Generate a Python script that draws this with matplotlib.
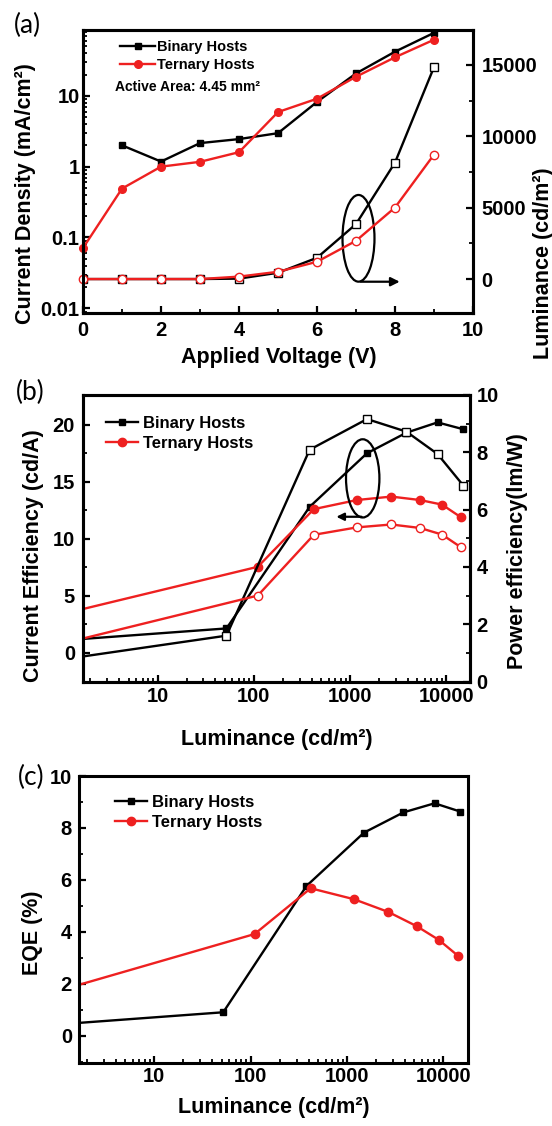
import matplotlib
matplotlib.use('Agg')
import numpy as np
import matplotlib.pyplot as plt
from matplotlib.patches import Ellipse
from matplotlib.ticker import MultipleLocator, LogLocator, FixedLocator, FixedFormatter, NullFormatter

plt.rcParams['font.family'] = ['Liberation Sans', 'DejaVu Sans']
plt.rcParams['font.weight'] = 'bold'
plt.rcParams['axes.labelweight'] = 'bold'

BLACK = '#000000'
RED = '#ee2020'
series_names = ['Binary Hosts', 'Ternary Hosts']

# ---------------- Panel (a) data ----------------
voltage = [0, 1, 2, 3, 4, 5, 6, 7, 8, 9]
binary_J_voltage = [1, 2, 3, 4, 5, 6, 7, 8, 9]
binary_J = [2.0, 1.18, 2.15, 2.45, 2.97, 8.2, 20.7, 42, 77.5]
ternary_J = [0.071, 0.49, 1.0, 1.17, 1.6, 5.9, 9.1, 18.6, 35, 62]
binary_L = [0, 0, 0, 0, 30, 440, 1490, 3850, 8160, 14850]
ternary_L = [0, 0, 0, 0, 170, 510, 1210, 2680, 5010, 8720]
a_xticks = [0, 2, 4, 6, 8, 10]
a_yticks = [0.01, 0.1, 1, 10]
a_yticklabels = ['0.01', '0.1', '1', '10']
a_y2ticks = [0, 5000, 10000, 15000]

# ---------------- Panel (b) data ----------------
binary_lum = [1.5, 52, 380, 1500, 3850, 8100, 15000]
binary_CE = [1.2, 2.15, 12.8, 17.5, 19.3, 20.2, 19.6]
binary_PE = [0.85, 1.6, 8.09, 9.16, 8.72, 7.94, 6.84]
ternary_lum = [1.5, 110, 420, 1180, 2680, 5300, 9000, 14100]
ternary_CE = [3.75, 7.55, 12.6, 13.4, 13.7, 13.4, 13.0, 11.9]
ternary_PE = [1.46, 3.0, 5.12, 5.38, 5.48, 5.36, 5.13, 4.69]
lum_ticks = [10, 100, 1000, 10000]
lum_ticklabels = ['10', '100', '1000', '10000']
b_yticks = [0, 5, 10, 15, 20]
b_y2ticks = [0, 2, 4, 6, 8, 10]

# ---------------- Panel (c) data ----------------
binary_EQE = [0.49, 0.91, 5.77, 7.82, 8.6, 8.95, 8.63]
ternary_EQE = [1.92, 3.92, 5.68, 5.26, 4.77, 4.22, 3.69, 3.09]
c_yticks = [0, 2, 4, 6, 8, 10]

W, H = 552, 1126
fig = plt.figure(figsize=(W / 100, H / 100), dpi=100)


def fx(x):
    return x / W


def fy(y):
    return 1 - y / H


def box(l, t, r, b):
    return [fx(l), fy(b), (r - l) / W, (b - t) / H]


LW = 1.7
SPW = 2.2
TICKFS = 14.5
LABFS = 15.5


def style_axes(ax):
    for s in ax.spines.values():
        s.set_linewidth(SPW)
    ax.tick_params(which='major', length=5, width=1.6, labelsize=TICKFS)
    ax.tick_params(which='minor', length=3, width=1.3)


def panel_label(x, y, s):
    fig.text(fx(x), fy(y), s, family=['Lato', 'DejaVu Sans'], weight='normal',
             fontsize=19, ha='center', va='center')


# ======================= (a) =======================
axa = fig.add_axes(box(83, 30, 473, 313.3))
axa2 = axa.twinx()
style_axes(axa)
style_axes(axa2)
axa.set_yscale('log')
hb, = axa.plot(binary_J_voltage, binary_J, '-', color=BLACK, lw=LW, marker='s', ms=4.5,
               mfc=BLACK, mec=BLACK, label=series_names[0])
ht, = axa.plot(voltage, ternary_J, '-', color=RED, lw=LW, marker='o', ms=5.5,
               mfc=RED, mec=RED, label=series_names[1], clip_on=False)
axa2.plot(voltage, binary_L, '-', color=BLACK, lw=LW, marker='s', ms=5.5,
          mfc='white', mec=BLACK, mew=1.0)
axa2.plot(voltage, ternary_L, '-', color=RED, lw=LW, marker='o', ms=6,
          mfc='white', mec=RED, mew=1.0, clip_on=False)
axa.set_xlim(0, 10)
axa.set_ylim(0.0085, 85)
axa2.set_ylim(-2400, 17450)
axa.xaxis.set_major_locator(FixedLocator(a_xticks))
axa.xaxis.set_minor_locator(MultipleLocator(1))
axa.yaxis.set_major_locator(FixedLocator(a_yticks))
axa.yaxis.set_major_formatter(FixedFormatter(a_yticklabels))
axa.yaxis.set_minor_locator(LogLocator(base=10, subs=np.arange(2, 10), numticks=20))
axa.yaxis.set_minor_formatter(NullFormatter())
axa.tick_params(which='both', direction='in', top=False, right=False)
axa.tick_params(axis='y', pad=2.5)
axa.tick_params(axis='x', pad=5.5)
axa2.yaxis.set_major_locator(FixedLocator(a_y2ticks))
axa2.yaxis.set_minor_locator(MultipleLocator(2500))
axa2.tick_params(which='both', direction='in', left=False)
axa2.tick_params(axis='y', pad=6)
axa.set_xlabel('Applied Voltage (V)', fontsize=LABFS)
axa.xaxis.set_label_coords(fx(278.5), fy(358), transform=fig.transFigure)
axa.xaxis.label.set_va('center')
axa.set_ylabel('Current Density (mA/cm²)', fontsize=LABFS)
axa.yaxis.set_label_coords(fx(26), fy(194), transform=fig.transFigure)
axa.yaxis.label.set_va('center')
axa2.set_ylabel('Luminance (cd/m²)', fontsize=LABFS)
axa2.yaxis.set_label_coords(fx(543), fy(263), transform=fig.transFigure)
axa2.yaxis.label.set_va('center')
axa2.legend([hb, ht], series_names, loc='upper left', bbox_to_anchor=(fx(120), fy(40)),
            bbox_transform=fig.transFigure, frameon=False, fontsize=10.5,
            handlelength=2.4, handletextpad=0.15, labelspacing=0.25, borderpad=0,
            borderaxespad=0)
fig.text(fx(115), fy(86.7), 'Active Area: 4.45 mm²', fontsize=10, ha='left', va='center')
axa2.add_patch(Ellipse((0.7064, 0.2647), 0.082, 0.306, transform=axa2.transAxes,
                       fill=False, ec=BLACK, lw=1.6))
axa2.annotate('', xy=(0.812, 0.1115), xytext=(0.712, 0.1115), xycoords='axes fraction',
              arrowprops=dict(arrowstyle='-|>', color=BLACK, lw=1.6, mutation_scale=13,
                              shrinkA=0, shrinkB=0))
panel_label(27, 25, '(a)')


def lum_axis(ax, xmax):
    ax.set_xscale('log')
    ax.set_xlim(1.67, xmax)
    ax.xaxis.set_major_locator(FixedLocator(lum_ticks))
    ax.xaxis.set_major_formatter(FixedFormatter(lum_ticklabels))
    ax.xaxis.set_minor_locator(LogLocator(base=10, subs=np.arange(2, 10), numticks=20))
    ax.xaxis.set_minor_formatter(NullFormatter())


# ======================= (b) =======================
axb = fig.add_axes(box(82.7, 395, 470, 681.5))
axb2 = axb.twinx()
style_axes(axb)
style_axes(axb2)
lum_axis(axb, 17600)
hb, = axb.plot(binary_lum, binary_CE, '-', color=BLACK, lw=LW, marker='s', ms=5,
               mfc=BLACK, mec=BLACK)
ht, = axb.plot(ternary_lum, ternary_CE, '-', color=RED, lw=LW, marker='o', ms=6,
               mfc=RED, mec=RED)
axb2.plot(binary_lum, binary_PE, '-', color=BLACK, lw=LW, marker='s', ms=5.5,
          mfc='white', mec=BLACK, mew=1.0)
axb2.plot(ternary_lum, ternary_PE, '-', color=RED, lw=LW, marker='o', ms=6,
          mfc='white', mec=RED, mew=1.0)
axb.set_ylim(-2.5, 22.6)
axb2.set_ylim(0, 10)
axb.yaxis.set_major_locator(FixedLocator(b_yticks))
axb.yaxis.set_minor_locator(MultipleLocator(2.5))
axb.tick_params(which='both', direction='in', top=False, right=False)
axb.tick_params(axis='y', pad=5.5)
axb.tick_params(axis='x', pad=3.7)
axb2.yaxis.set_major_locator(FixedLocator(b_y2ticks))
axb2.yaxis.set_minor_locator(MultipleLocator(1))
axb2.tick_params(which='both', direction='in', left=False)
axb2.tick_params(axis='y', pad=4.8)
axb.set_xlabel('Luminance (cd/m²)', fontsize=LABFS)
axb.xaxis.set_label_coords(fx(276.5), fy(740), transform=fig.transFigure)
axb.xaxis.label.set_va('center')
axb.set_ylabel('Current Efficiency (cd/A)', fontsize=LABFS)
axb.yaxis.set_label_coords(fx(34), fy(556), transform=fig.transFigure)
axb.yaxis.label.set_va('center')
axb2.set_ylabel('Power efficiency(lm/W)', fontsize=LABFS)
axb2.yaxis.set_label_coords(fx(517), fy(551), transform=fig.transFigure)
axb2.yaxis.label.set_va('center')
axb2.legend([hb, ht], series_names, loc='upper left', bbox_to_anchor=(fx(106), fy(416)),
            bbox_transform=fig.transFigure, frameon=False, fontsize=12,
            handlelength=1.9, handletextpad=0.3, labelspacing=0.3, borderpad=0,
            borderaxespad=0)
axb2.add_patch(Ellipse((0.723, 0.709), 0.0862, 0.273, transform=axb2.transAxes,
                       fill=False, ec=BLACK, lw=1.6))
axb2.annotate('', xy=(0.655, 0.575), xytext=(0.72, 0.575), xycoords='axes fraction',
              arrowprops=dict(arrowstyle='-|>', color=BLACK, lw=1.6, mutation_scale=11,
                              shrinkA=0, shrinkB=0))
panel_label(30, 392, '(b)')

# ======================= (c) =======================
axc = fig.add_axes(box(79.3, 776, 468, 1062.7))
style_axes(axc)
lum_axis(axc, 18000)
hb, = axc.plot(binary_lum, binary_EQE, '-', color=BLACK, lw=LW, marker='s', ms=5,
               mfc=BLACK, mec=BLACK)
ht, = axc.plot(ternary_lum, ternary_EQE, '-', color=RED, lw=LW, marker='o', ms=6,
               mfc=RED, mec=RED)
axc.set_ylim(-1.03, 10)
axc.yaxis.set_major_locator(FixedLocator(c_yticks))
axc.yaxis.set_minor_locator(MultipleLocator(1))
axc.tick_params(which='both', direction='in', top=False, right=False)
axc.tick_params(axis='y', pad=5.3)
axc.tick_params(axis='x', pad=3.3)
axc.set_xlabel('Luminance (cd/m²)', fontsize=LABFS)
axc.xaxis.set_label_coords(fx(274), fy(1108), transform=fig.transFigure)
axc.xaxis.label.set_va('center')
axc.set_ylabel('EQE (%)', fontsize=LABFS)
axc.yaxis.set_label_coords(fx(32.6), fy(933), transform=fig.transFigure)
axc.yaxis.label.set_va('center')
axc.legend([hb, ht], series_names, loc='upper left', bbox_to_anchor=(fx(115), fy(795)),
           bbox_transform=fig.transFigure, frameon=False, fontsize=12,
           handlelength=1.9, handletextpad=0.3, labelspacing=0.3, borderpad=0,
           borderaxespad=0)
panel_label(31, 777, '(c)')

fig.savefig('out.png', dpi=100)
